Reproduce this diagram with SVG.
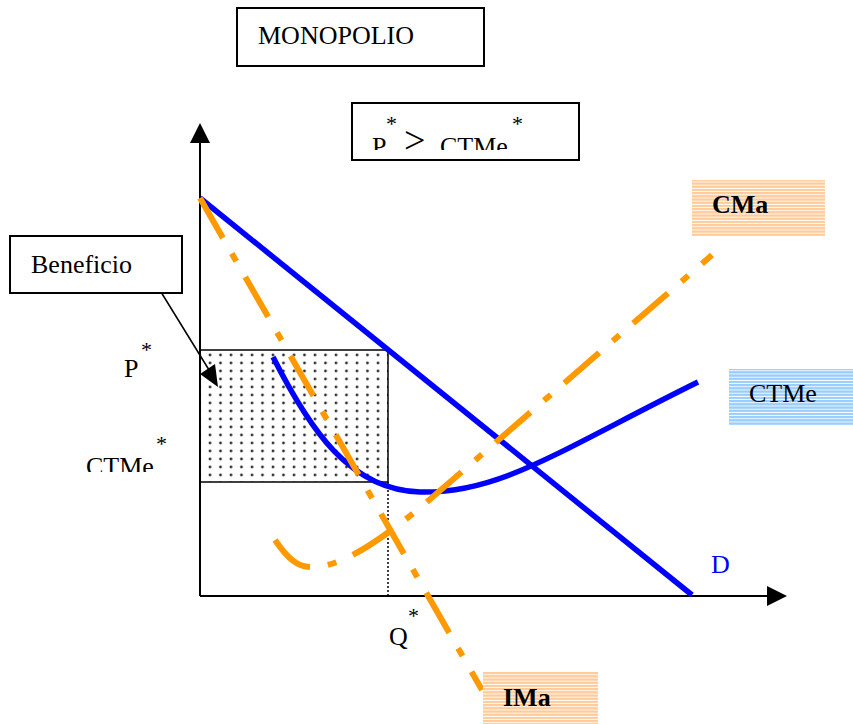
<svg xmlns="http://www.w3.org/2000/svg" width="853" height="724" viewBox="0 0 853 724">
<defs>
<style>
.t{font-family:"Liberation Serif","Times New Roman",serif;font-size:26px;fill:#000}
.b{font-weight:bold}
.ast{font-family:"Liberation Serif","Times New Roman",serif;font-size:22px;fill:#000}
.box{fill:#fff;stroke:#000;stroke-width:2}
.axis{stroke:#000;stroke-width:2;fill:none}
.blue{stroke:#0000ff;stroke-width:5.5;fill:none}
.orange{stroke:#ff9900;stroke-width:6;fill:none;stroke-dasharray:46 18 9 18}
</style>
<pattern id="dots" patternUnits="userSpaceOnUse" x="205" y="351" width="10.5" height="8">
<circle cx="5" cy="4" r="1.4" fill="#333"/>
</pattern>
<pattern id="orStripe" patternUnits="userSpaceOnUse" width="10" height="3.2">
<rect width="10" height="3.2" fill="#fff"/>
<rect width="10" height="2.3" fill="#ffcc99"/>
</pattern>
<pattern id="blStripe" patternUnits="userSpaceOnUse" width="10" height="3.2">
<rect width="10" height="3.2" fill="#fff"/>
<rect width="10" height="2.3" fill="#99ccff"/>
</pattern>
<clipPath id="clipTop"><rect x="352" y="103" width="227" height="47"/></clipPath>
<clipPath id="clipCT"><rect x="60" y="420" width="135" height="52"/></clipPath>
</defs>

<g id="profit-area">
<rect x="200" y="350" width="188" height="132" fill="url(#dots)"/>
<path d="M200,350 H388 V482 H200" fill="none" stroke="#000" stroke-width="1.5"/>
</g>

<g id="axes">
<line class="axis" x1="200" y1="140" x2="200" y2="596"/>
<polygon points="200,123 190,143 210,143" fill="#000"/>
<line class="axis" x1="200" y1="596" x2="770" y2="596"/>
<polygon points="787,596 767,586 767,606" fill="#000"/>
<line x1="388" y1="482" x2="388" y2="596" stroke="#000" stroke-width="1.5" stroke-dasharray="2 2"/>
</g>

<g id="connectors">
<path id="curve-D" class="blue" d="M200,198 L692,595"/>
<path id="curve-CTMe" class="blue" d="M273,357 C310,430 350,490 420,492 C500,494 560,450 698,382"/>
<path id="curve-IMa" class="orange" d="M200,198 L482,690"/>
<path id="curve-CMa" class="orange" d="M275,540 C290,562 300,568 315,567 C345,565 380,540 420,508 L712,255"/>
<line x1="161" y1="292" x2="214" y2="378" stroke="#000" stroke-width="1.5"/>
<polygon points="200,374 215,364 218,387" fill="#000"/>
</g>

<g id="title">
<rect class="box" x="237" y="8" width="247" height="58"/>
<text class="t" x="258" y="44">MONOPOLIO</text>
</g>

<g id="condition">
<rect class="box" x="352" y="103" width="227" height="57"/>
<g clip-path="url(#clipTop)">
<text class="t" x="372" y="155">P</text>
<text class="ast" x="386" y="131">*</text>
<text class="t" x="404" y="153" style="font-size:38px">&gt;</text>
<text class="t" x="440" y="155">CTMe</text>
<text class="ast" x="512" y="131">*</text>
</g>
</g>

<g id="beneficio">
<rect class="box" x="10" y="236" width="172" height="57"/>
<text class="t" x="31" y="273">Beneficio</text>
</g>

<g id="label-CMa">
<rect x="692" y="180" width="133" height="56" fill="url(#orStripe)"/>
<text class="t b" x="712" y="213">CMa</text>
</g>

<g id="label-CTMe">
<rect x="729" y="369" width="124" height="56" fill="url(#blStripe)"/>
<text class="t" x="749" y="402">CTMe</text>
</g>

<g id="label-IMa">
<rect x="483" y="672" width="115" height="52" fill="url(#orStripe)"/>
<text class="t b" x="503" y="706">IMa</text>
</g>

<g id="label-D">
<text class="t" x="711" y="573" style="fill:#0000ff">D</text>
</g>

<g id="label-P">
<text class="t" x="124" y="377">P</text>
<text class="ast" x="141" y="357">*</text>
</g>

<g id="label-CTMe-star">
<g clip-path="url(#clipCT)">
<text class="t" x="86" y="475">CTMe</text>
</g>
<text class="ast" x="156" y="451">*</text>
</g>

<g id="label-Q">
<text class="t" x="389" y="645">Q</text>
<text class="ast" x="408" y="623">*</text>
</g>
</svg>
